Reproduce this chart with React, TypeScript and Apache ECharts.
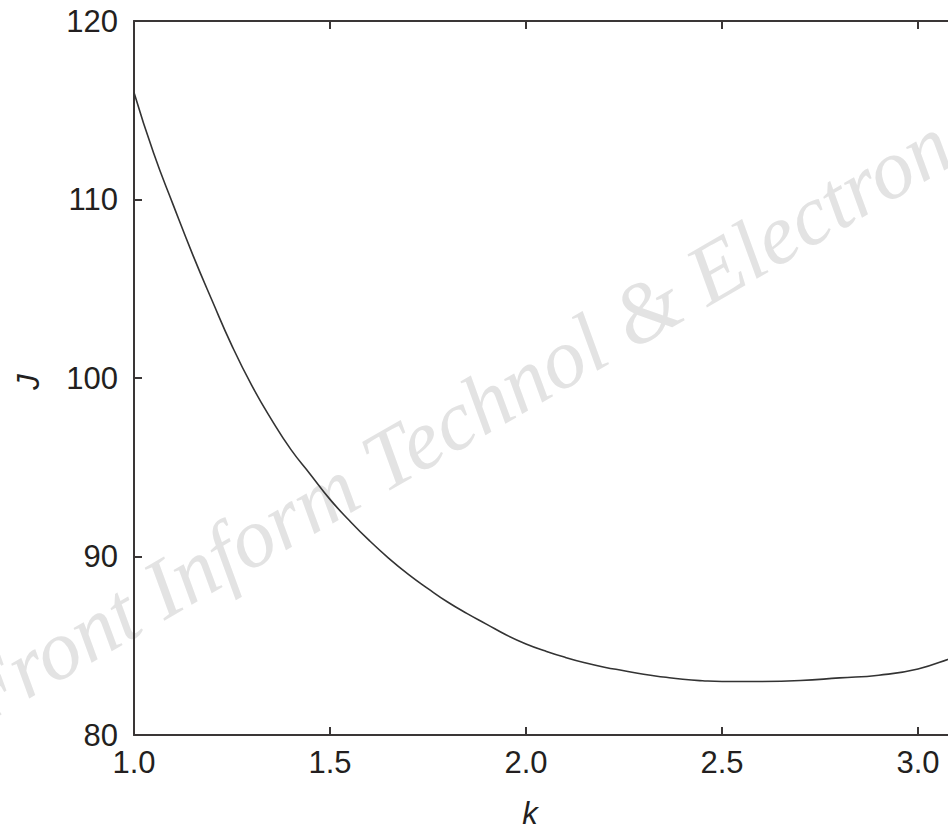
import React, { useEffect, useRef } from "react";
import * as echarts from "echarts";

const kValues = [1.0, 1.05, 1.1, 1.15, 1.2, 1.25, 1.3, 1.35, 1.4, 1.45, 1.5, 1.55, 1.6, 1.65, 1.7, 1.75, 1.8, 1.85, 1.9, 1.95, 2.0, 2.05, 2.1, 2.15, 2.2, 2.25, 2.3, 2.35, 2.4, 2.45, 2.5, 2.6, 2.7, 2.8, 2.9, 3.0, 3.1, 3.2];
const jValues = [116.0, 112.6, 109.7, 106.9, 104.3, 101.8, 99.6, 97.7, 96.0, 94.6, 93.2, 92.0, 90.9, 89.9, 89.0, 88.2, 87.45, 86.8, 86.2, 85.6, 85.1, 84.7, 84.35, 84.05, 83.8, 83.6, 83.4, 83.25, 83.12, 83.04, 83.0, 83.0, 83.05, 83.2, 83.35, 83.7, 84.4, 85.0];
const xTicks = [1.0, 1.5, 2.0, 2.5, 3.0, 3.5];
const yTicks = [80, 90, 100, 110, 120];
const xName = "k";
const yName = "J";
const watermark = "Front Inform Technol & Electron";

const FONT = "'Liberation Sans', Arial, sans-serif";
const AXIS_COLOR = "#3a3636";
const TEXT_COLOR = "#231f20";

export default function App() {
  const ref = useRef<HTMLDivElement>(null);
  useEffect(() => {
    if (!ref.current) return;
    const chart = echarts.init(ref.current, undefined, { renderer: "svg" });
    const axisLine = { show: true, onZero: false, lineStyle: { color: AXIS_COLOR, width: 2 } };
    const axisTick = { show: true, inside: true, length: 8, lineStyle: { color: AXIS_COLOR, width: 2 } };
    chart.setOption({
      animation: false,
      backgroundColor: "#ffffff",
      grid: { left: 134, top: 21, width: 980, bottom: 96, containLabel: false, outerBoundsMode: "none" },
      xAxis: [
        {
          type: "value",
          min: xTicks[0],
          max: xTicks[xTicks.length - 1],
          interval: 0.5,
          axisLine,
          axisTick,
          splitLine: { show: false },
          axisLabel: {
            margin: 12,
            fontSize: 31,
            fontFamily: FONT,
            color: TEXT_COLOR,
            showMaxLabel: false,
            formatter: (v: number) => v.toFixed(1),
          },
        },
        {
          type: "value",
          position: "top",
          min: xTicks[0],
          max: xTicks[xTicks.length - 1],
          interval: 0.5,
          axisLine,
          axisTick,
          splitLine: { show: false },
          axisLabel: { show: false },
        },
      ],
      yAxis: [
        {
          type: "value",
          min: yTicks[0],
          max: yTicks[yTicks.length - 1],
          interval: 10,
          axisLine,
          axisTick,
          splitLine: { show: false },
          axisLabel: {
            margin: 16,
            fontSize: 31,
            fontFamily: FONT,
            color: TEXT_COLOR,
          },
        },
        {
          type: "value",
          position: "right",
          min: yTicks[0],
          max: yTicks[yTicks.length - 1],
          interval: 10,
          axisLine,
          axisTick,
          splitLine: { show: false },
          axisLabel: { show: false },
        },
      ],
      graphic: [
        {
          type: "text",
          x: -12,
          y: 738,
          rotation: (30 * Math.PI) / 180,
          z: 0,
          silent: true,
          style: {
            text: watermark,
            fontSize: 85,
            fontFamily: "'Liberation Serif', 'Times New Roman', serif",
            fontStyle: "italic",
            fill: "#e3e3e3",
            textAlign: "left",
            textVerticalAlign: "bottom",
          },
        },
        {
          type: "text",
          x: 530,
          y: 813,
          z: 10,
          style: {
            text: xName,
            fontSize: 31,
            fontFamily: FONT,
            fontStyle: "italic",
            fill: TEXT_COLOR,
            textAlign: "center",
            textVerticalAlign: "middle",
          },
        },
        {
          type: "text",
          x: 28,
          y: 382,
          rotation: Math.PI / 2,
          z: 10,
          style: {
            text: yName,
            fontSize: 31,
            fontFamily: FONT,
            fontStyle: "italic",
            fill: TEXT_COLOR,
            textAlign: "center",
            textVerticalAlign: "middle",
          },
        },
      ],
      series: [
        {
          type: "line",
          data: kValues.map((k, i) => [k, jValues[i]]),
          showSymbol: false,
          symbol: "none",
          smooth: true,
          z: 5,
          lineStyle: { color: "#333333", width: 1.6 },
        },
      ],
    });
    return () => chart.dispose();
  }, []);
  return (
    <div
      ref={ref}
      style={{ position: "fixed", left: 0, top: 0, width: 948, height: 831, overflow: "hidden" }}
    />
  );
}
